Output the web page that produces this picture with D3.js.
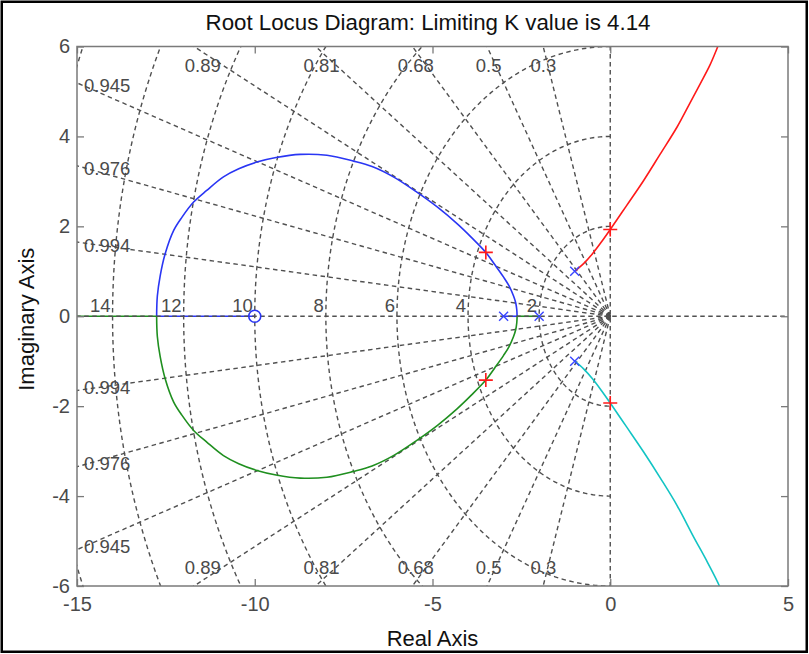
<!DOCTYPE html>
<html>
<head>
<meta charset="utf-8">
<script src="https://cdn.jsdelivr.net/npm/d3@7/dist/d3.min.js"></script>
<style>
  html, body { margin: 0; padding: 0; background: #fff; }
  svg { display: block; font-family: "Liberation Sans", Arial, sans-serif; }
</style>
</head>
<body>
<svg id="chart" width="809" height="654"></svg>
<script>
// Axis ticks
const xTicks = [-15, -10, -5, 0, 5];
const yTicks = [-6, -4, -2, 0, 2, 4, 6];

// s-plane grid: damping ratios and natural frequencies
const zetaValues = [0.3, 0.5, 0.68, 0.81, 0.89, 0.945, 0.976, 0.994];
const wnValues = [2, 4, 6, 8, 10, 12, 14, 16];

// Open-loop poles and zeros
const openLoopPoles = [[-1, 1], [-1, -1], [-2, 0], [-3, 0]];
const openLoopZeros = [[-10, 0]];

// Closed-loop roots at the limiting gain
const limitingK = 4.14;
const limitingRoots = [[0, 1.93], [0, -1.93], [-3.5, 1.42], [-3.5, -1.42]];

// Locus branches (real, imaginary), split into real-axis runs and complex arcs
const blueRealStart = [[-3, 0], [-2.62, 0]];
const blueArc = [
  [-2.62, 0], [-2.63, 0.15], [-2.66, 0.3], [-2.72, 0.45], [-2.85, 0.68],
  [-3.0, 0.87], [-3.25, 1.15], [-3.5, 1.42], [-3.9, 1.75], [-4.31, 2.06],
  [-4.85, 2.42], [-5.44, 2.76], [-6.1, 3.1], [-6.7, 3.33], [-7.22, 3.45],
  [-7.97, 3.58], [-8.72, 3.6], [-9.4, 3.53], [-9.94, 3.43], [-10.45, 3.28],
  [-10.88, 3.1], [-11.35, 2.8], [-11.72, 2.54], [-12.05, 2.2], [-12.28, 1.91],
  [-12.52, 1.39], [-12.66, 0.9], [-12.74, 0.45], [-12.76, 0]
];
const blueRealEnd = [[-12.76, 0], [-10, 0]];

const greenRealStart = [[-2, 0], [-2.62, 0]];
const greenArc = [
  [-2.62, 0], [-2.63, -0.15], [-2.66, -0.3], [-2.72, -0.45], [-2.85, -0.68],
  [-3.0, -0.87], [-3.25, -1.15], [-3.5, -1.42], [-3.9, -1.75], [-4.31, -2.06],
  [-4.85, -2.42], [-5.44, -2.76], [-6.1, -3.1], [-6.7, -3.33], [-7.22, -3.45],
  [-7.97, -3.58], [-8.72, -3.6], [-9.4, -3.53], [-9.94, -3.43], [-10.45, -3.28],
  [-10.88, -3.1], [-11.35, -2.8], [-11.72, -2.54], [-12.05, -2.2], [-12.28, -1.91],
  [-12.52, -1.39], [-12.66, -0.9], [-12.74, -0.45], [-12.76, 0]
];
const greenRealEnd = [[-12.76, 0], [-16, 0]];

const redArc = [
  [-1, 1], [-0.75, 1.17], [-0.5, 1.39], [-0.25, 1.65], [0, 1.93], [0.45, 2.45],
  [0.94, 3.02], [1.4, 3.6], [1.88, 4.21], [2.2, 4.68], [2.53, 5.17], [2.8, 5.58],
  [3.0, 5.95], [3.12, 6.2]
];
const cyanArc = [
  [-1, -1], [-0.75, -1.17], [-0.5, -1.39], [-0.25, -1.65], [0, -1.93], [0.45, -2.45],
  [0.94, -3.02], [1.41, -3.6], [1.88, -4.21], [2.34, -4.9], [2.7, -5.42],
  [3.07, -6.0], [3.15, -6.2]
];

const W = 809, H = 654;
const plot = { left: 77, right: 788, top: 46.5, bottom: 586 };

const svg = d3.select("#chart");
const x = d3.scaleLinear().domain([-15, 5]).range([plot.left, plot.right]);
const y = d3.scaleLinear().domain([-6, 6]).range([plot.bottom, plot.top]);

svg.append("rect").attr("width", W).attr("height", H).attr("fill", "#fff");

svg.append("defs").append("clipPath").attr("id", "plotClip")
  .append("rect")
  .attr("x", plot.left).attr("y", plot.top)
  .attr("width", plot.right - plot.left).attr("height", plot.bottom - plot.top);

const gridColor = "#505050";
const gridDash = "4.5,3.5";
const gridWidth = 1.4;
const line = d3.line().x(d => x(d[0])).y(d => y(d[1]));
const smooth = d3.line().x(d => x(d[0])).y(d => y(d[1])).curve(d3.curveCatmullRom.alpha(0.5));

const grid = svg.append("g").attr("clip-path", "url(#plotClip)");
const gridPath = (g, d) => g.append("path").attr("d", d)
  .attr("fill", "none").attr("stroke", gridColor).attr("stroke-width", gridWidth)
  .attr("stroke-dasharray", gridDash);

// damping-ratio rays
zetaValues.forEach(z => {
  const s = Math.sqrt(1 - z * z);
  [1, -1].forEach(sg => gridPath(grid, line([[0, 0], [-z * 40, sg * s * 40]])));
});
// imaginary axis (zeta = 0)
gridPath(grid, line([[0, -40], [0, 40]]));

// natural-frequency semicircles
wnValues.forEach(wn => {
  const pts = d3.range(90, 270.5, 1).map(a => {
    const t = a * Math.PI / 180;
    return [wn * Math.cos(t), wn * Math.sin(t)];
  });
  gridPath(grid, line(pts));
});

// locus branches
const loci = svg.append("g").attr("clip-path", "url(#plotClip)");
const blue = "#2a36f4", green = "#1f8f1f", red = "#ff1a1a", cyan = "#12c4c4";
[
  [blueRealStart, blue, line], [blueArc, blue, smooth], [blueRealEnd, blue, line],
  [greenRealStart, green, line], [greenArc, green, smooth], [greenRealEnd, green, line],
  [redArc, red, smooth], [cyanArc, cyan, smooth]
].forEach(([data, color, gen]) => {
  loci.append("path").attr("d", gen(data))
    .attr("fill", "none").attr("stroke", color).attr("stroke-width", 1.6)
    .attr("stroke-linejoin", "round");
});

// real axis (zeta = 1) drawn over the locus
gridPath(loci, line([[-40, 0], [40, 0]]));

// grid labels
const labelColor = "#4a4a4a";
const gl = svg.append("g").attr("font-size", 18.5).attr("fill", labelColor);
zetaValues.forEach(z => {
  const s = Math.sqrt(1 - z * z);
  const xTop = -6 * z / s;
  if (xTop >= -15) {
    [plot.top + 18.5, plot.bottom - 19].forEach(py => {
      gl.append("text").attr("x", x(xTop * 0.975) - 1.5).attr("y", py)
        .attr("text-anchor", "middle").attr("dominant-baseline", "central")
        .text(String(z));
    });
  } else {
    const yl = 15 * s / z;
    [[yl, 3], [-yl, -3]].forEach(([yy, off]) => {
      gl.append("text").attr("x", plot.left + 7).attr("y", y(yy) + off)
        .attr("text-anchor", "start").attr("dominant-baseline", "central")
        .text(String(z));
    });
  }
});
wnValues.filter(wn => -wn >= -15).forEach(wn => {
  gl.append("text").attr("x", x(-wn) - 2).attr("y", y(0) - 4.5)
    .attr("text-anchor", "end").text(String(wn));
});

// markers
const mk = svg.append("g");
openLoopPoles.forEach(p => {
  const cx = x(p[0]), cy = y(p[1]), r = 4.5;
  mk.append("path")
    .attr("d", `M${cx - r},${cy - r}L${cx + r},${cy + r}M${cx - r},${cy + r}L${cx + r},${cy - r}`)
    .attr("stroke", "#3a46ff").attr("stroke-width", 1.4).attr("fill", "none");
});
openLoopZeros.forEach(p => {
  mk.append("circle").attr("cx", x(p[0])).attr("cy", y(p[1])).attr("r", 6)
    .attr("fill", "none").attr("stroke", blue).attr("stroke-width", 1.6);
});
limitingRoots.forEach(p => {
  const cx = x(p[0]), cy = y(p[1]), r = 7;
  mk.append("path")
    .attr("d", `M${cx - r},${cy}L${cx + r},${cy}M${cx},${cy - r}L${cx},${cy + r}`)
    .attr("stroke", red).attr("stroke-width", 1.6).attr("fill", "none");
});

// axes box and ticks
const axisColor = "#7a7a7a";
const styleAxis = g => {
  g.select(".domain").remove();
  g.selectAll(".tick line").attr("stroke", axisColor).attr("stroke-width", 1.3);
  g.selectAll(".tick text").attr("fill", labelColor)
    .attr("font-size", 20).attr("font-family", "Liberation Sans, Arial, sans-serif");
};
svg.append("g").attr("transform", `translate(0,${plot.bottom})`)
  .call(d3.axisBottom(x).tickValues(xTicks).tickSize(-7).tickPadding(11).tickFormat(d3.format("d")))
  .call(styleAxis);
svg.append("g").attr("transform", `translate(0,${plot.top})`)
  .call(d3.axisTop(x).tickValues(xTicks).tickSize(-7).tickFormat(""))
  .call(styleAxis);
svg.append("g").attr("transform", `translate(${plot.left},0)`)
  .call(d3.axisLeft(y).tickValues(yTicks).tickSize(-7).tickPadding(7).tickFormat(d3.format("d")))
  .call(styleAxis);
svg.append("g").attr("transform", `translate(${plot.right},0)`)
  .call(d3.axisRight(y).tickValues(yTicks).tickSize(-7).tickFormat(""))
  .call(styleAxis);
svg.selectAll(".tick text").filter(function () { return this.textContent.startsWith("\u2212"); })
  .text(function () { return "-" + this.textContent.slice(1); });

svg.append("rect")
  .attr("x", plot.left).attr("y", plot.top)
  .attr("width", plot.right - plot.left).attr("height", plot.bottom - plot.top)
  .attr("fill", "none").attr("stroke", axisColor).attr("stroke-width", 1.5);

// title and axis labels
svg.append("text").attr("x", 428).attr("y", 30).attr("text-anchor", "middle")
  .attr("font-size", 22.3).attr("fill", "#111")
  .text(`Root Locus Diagram: Limiting K value is ${limitingK}`);
svg.append("text").attr("x", (plot.left + plot.right) / 2).attr("y", 646)
  .attr("text-anchor", "middle").attr("font-size", 22).attr("fill", "#111")
  .text("Real Axis");
svg.append("text").attr("transform", `translate(34,${(plot.top + plot.bottom) / 2 + 3}) rotate(-90)`)
  .attr("text-anchor", "middle").attr("font-size", 22).attr("fill", "#111")
  .text("Imaginary Axis");

// outer frame
svg.append("rect").attr("x", 1.75).attr("y", 1.75).attr("width", 805).attr("height", 650)
  .attr("fill", "none").attr("stroke", "#000").attr("stroke-width", 2.5);
</script>
</body>
</html>
